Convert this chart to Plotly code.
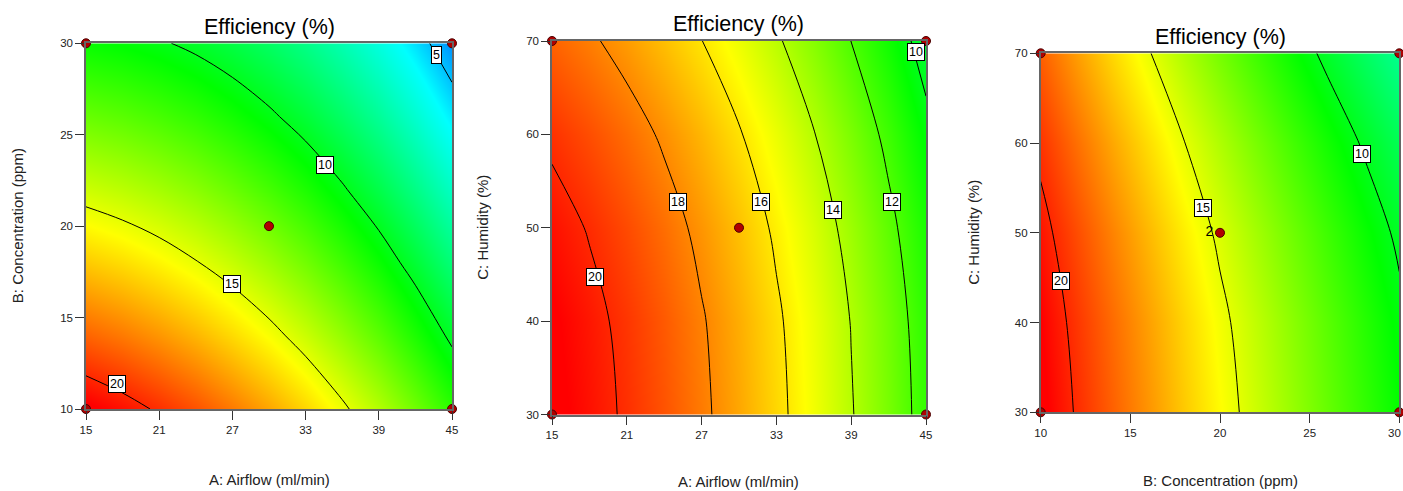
import plotly.graph_objects as go

# ---------------- data ----------------
# Panel 1: A (Airflow) vs B (Concentration)
p1_airflow = [15, 18, 21, 24, 27, 30, 33, 36, 39, 42, 45]
p1_conc = [10, 14, 18, 22, 26, 30]
p1_eff = [
    [21.03, 20.48, 19.84, 19.11, 18.28, 17.36, 16.34, 15.23, 14.03, 12.74, 11.35],
    [18.76, 18.28, 17.71, 17.04, 16.28, 15.43, 14.48, 13.44, 12.31, 11.08, 9.76],
    [16.59, 16.17, 15.67, 15.07, 14.38, 13.59, 12.71, 11.74, 10.68, 9.52, 8.26],
    [14.51, 14.16, 13.73, 13.20, 12.57, 11.85, 11.04, 10.14, 9.14, 8.05, 6.87],
    [12.53, 12.25, 11.88, 11.42, 10.86, 10.21, 9.47, 8.63, 7.70, 6.68, 5.56],
    [10.64, 10.43, 10.13, 9.74, 9.25, 8.67, 7.99, 7.22, 6.36, 5.41, 4.36],
]
p1_levels = [5, 20, 5]
p1_design_x = [15, 45, 15, 45, 30]
p1_design_y = [10, 10, 30, 30, 20]
p1_label_text = ["20", "15", "10", "5"]
p1_label_x = [17.57, 26.99, 34.62, 43.72]
p1_label_y = [11.35, 16.81, 23.37, 29.34]
p1_xticks = [15, 21, 27, 33, 39, 45]
p1_yticks = [10, 15, 20, 25, 30]

# Panel 2: A (Airflow) vs C (Humidity)
p2_airflow = [15, 18, 21, 24, 27, 30, 33, 36, 39, 42, 45]
p2_hum = [30, 40, 50, 60, 70]
p2_eff = [
    [21.07, 20.49, 19.83, 19.09, 18.25, 17.34, 16.34, 15.25, 14.09, 12.83, 11.49],
    [20.93, 20.35, 19.69, 18.95, 18.11, 17.20, 16.20, 15.12, 13.96, 12.70, 11.36],
    [20.49, 19.92, 19.26, 18.53, 17.69, 16.79, 15.80, 14.72, 13.57, 12.32, 10.99],
    [19.77, 19.20, 18.55, 17.82, 17.00, 16.10, 15.12, 14.05, 12.91, 11.68, 10.36],
    [18.75, 18.19, 17.55, 16.83, 16.02, 15.14, 14.17, 13.12, 11.99, 10.78, 9.48],
]
p2_levels = [10, 20, 2]
p2_design_x = [15, 45, 15, 45, 30]
p2_design_y = [30, 30, 70, 70, 50]
p2_label_text = ["20", "18", "16", "14", "12", "10"]
p2_label_x = [18.47, 25.13, 31.79, 37.53, 42.24, 44.22]
p2_label_y = [44.74, 52.71, 52.71, 51.92, 52.71, 68.79]
p2_xticks = [15, 21, 27, 33, 39, 45]
p2_yticks = [30, 40, 50, 60, 70]

# Panel 3: B (Concentration) vs C (Humidity)
p3_conc = [10, 12, 14, 16, 18, 20, 22, 24, 26, 28, 30]
p3_hum = [30, 40, 50, 60, 70]
p3_eff = [
    [21.03, 19.90, 18.79, 17.70, 16.62, 15.56, 14.52, 13.50, 12.50, 11.52, 10.55],
    [20.83, 19.68, 18.56, 17.46, 16.38, 15.31, 14.27, 13.25, 12.25, 11.27, 10.30],
    [20.39, 19.22, 18.07, 16.95, 15.85, 14.77, 13.72, 12.70, 11.70, 10.72, 9.77],
    [19.71, 18.49, 17.31, 16.16, 15.03, 13.94, 12.88, 11.85, 10.85, 9.88, 8.94],
    [18.80, 17.52, 16.29, 15.09, 13.93, 12.81, 11.74, 10.70, 9.70, 8.74, 7.83],
]
p3_levels = [10, 20, 5]
p3_design_x = [10, 30, 10, 30, 20]
p3_design_y = [30, 30, 70, 70, 50]
p3_design_text = ["", "", "", "", "2"]
p3_label_text = ["20", "15", "10"]
p3_label_x = [11.12, 19.07, 27.94]
p3_label_y = [44.66, 52.73, 58.75]
p3_xticks = [10, 15, 20, 25, 30]
p3_yticks = [30, 40, 50, 60, 70]

# colour scale (value -> colour)
color_min, color_max = 2.5, 20.8
color_stops = [2.5, 5.8, 10.5, 15.5, 20.8]
color_names = ["#0000FF", "#00FFFF", "#00FF00", "#FFFF00", "#FF0000"]

titles = ["Efficiency (%)", "Efficiency (%)", "Efficiency (%)"]
x_titles = ["A: Airflow (ml/min)", "A: Airflow (ml/min)", "B: Concentration (ppm)"]
y_titles = ["B: Concentration (ppm)", "C: Humidity (%)", "C: Humidity (%)"]

# ---------------- figure ----------------
W, H = 1403, 491
FONT = "Arial, 'Liberation Sans', sans-serif"
colorscale = [[(v - color_min) / (color_max - color_min), c] for v, c in zip(color_stops, color_names)]

panels = [
    dict(x=p1_airflow, y=p1_conc, z=p1_eff, lev=p1_levels, dx=p1_design_x, dy=p1_design_y,
         dt=None, lt=p1_label_text, lx=p1_label_x, ly=p1_label_y,
         xr=[15, 45], yr=[10, 30], xt=p1_xticks, yt=p1_yticks,
         px=(86, 452), py=(43.3, 409), title_y=27, xtitle_y=479, ytitle_x=17),
    dict(x=p2_airflow, y=p2_hum, z=p2_eff, lev=p2_levels, dx=p2_design_x, dy=p2_design_y,
         dt=None, lt=p2_label_text, lx=p2_label_x, ly=p2_label_y,
         xr=[15, 45], yr=[30, 70], xt=p2_xticks, yt=p2_yticks,
         px=(552, 926), py=(41, 414.5), title_y=24, xtitle_y=481.5, ytitle_x=483),
    dict(x=p3_conc, y=p3_hum, z=p3_eff, lev=p3_levels, dx=p3_design_x, dy=p3_design_y,
         dt=p3_design_text, lt=p3_label_text, lx=p3_label_x, ly=p3_label_y,
         xr=[10, 30], yr=[30, 70], xt=p3_xticks, yt=p3_yticks,
         px=(1040.7, 1399.3), py=(53.3, 412.3), title_y=37, xtitle_y=480, ytitle_x=974),
]

fig = go.Figure()
annotations = []
layout_axes = {}
TICKFONT = dict(family=FONT, size=11.5, color="#222")

for i, p in enumerate(panels):
    n = "" if i == 0 else str(i + 1)
    xa, ya = "x" + n, "y" + n
    fig.add_trace(go.Heatmap(
        x=p["x"], y=p["y"], z=p["z"], zsmooth="best", colorscale=colorscale,
        zmin=color_min, zmax=color_max, showscale=False, hoverinfo="skip",
        xaxis=xa, yaxis=ya))
    fig.add_trace(go.Contour(
        x=p["x"], y=p["y"], z=p["z"],
        contours=dict(coloring="none", start=p["lev"][0], end=p["lev"][1], size=p["lev"][2]),
        line=dict(color="black", width=1, smoothing=1.0),
        showscale=False, hoverinfo="skip", xaxis=xa, yaxis=ya))
    fig.add_trace(go.Scatter(
        x=p["dx"], y=p["dy"], mode="markers+text" if p["dt"] else "markers",
        text=p["dt"], textposition="middle left",
        textfont=dict(family=FONT, size=14, color="black"),
        marker=dict(size=9, color="#B00000", line=dict(color="#4A0000", width=1)),
        cliponaxis=False, showlegend=False, hoverinfo="skip", xaxis=xa, yaxis=ya))

    for t, lx, ly in zip(p["lt"], p["lx"], p["ly"]):
        annotations.append(dict(
            x=lx, y=ly, xref=xa, yref=ya, text=t, showarrow=False,
            bgcolor="white", bordercolor="black", borderwidth=1, borderpad=1,
            font=dict(family=FONT, size=12.5, color="black")))

    x0, x1 = p["px"]
    y0, y1 = p["py"]
    axis_common = dict(
        ticks="outside", ticklen=9, tickwidth=1, tickcolor="#333",
        showline=True, linecolor="#666", linewidth=1.5, mirror=True,
        showgrid=False, zeroline=False, fixedrange=True, automargin=False,
        tickfont=TICKFONT)
    xticktext = [str(v) for v in p["xt"]]
    if x1 > W - 10:
        # last label would run past the page edge: drawn separately, right-aligned
        last = xticktext[-1]
        xticktext[-1] = ""
        annotations.append(dict(x=1, y=1 - (y1 + 20.5) / H, xref="paper", yref="paper",
                                text=last, showarrow=False, xanchor="right", yanchor="middle",
                                font=TICKFONT))
    layout_axes["xaxis" + n] = dict(axis_common, domain=[x0 / W, x1 / W], range=p["xr"],
                                    tickvals=p["xt"], ticktext=xticktext, anchor=ya)
    layout_axes["yaxis" + n] = dict(axis_common, domain=[1 - y1 / H, 1 - y0 / H], range=p["yr"],
                                    tickvals=p["yt"], anchor=xa)

    cx = (x0 + x1) / 2
    annotations.append(dict(x=cx / W, y=1 - p["title_y"] / H, xref="paper", yref="paper",
                            text=titles[i], showarrow=False, xanchor="center", yanchor="middle",
                            font=dict(family=FONT, size=21.5, color="black")))
    annotations.append(dict(x=cx / W, y=1 - p["xtitle_y"] / H, xref="paper", yref="paper",
                            text=x_titles[i], showarrow=False, xanchor="center", yanchor="middle",
                            font=dict(family=FONT, size=15, color="#222")))
    annotations.append(dict(x=p["ytitle_x"] / W, y=1 - ((y0 + y1) / 2) / H, xref="paper", yref="paper",
                            text=y_titles[i], showarrow=False, textangle=-90,
                            xanchor="center", yanchor="middle",
                            font=dict(family=FONT, size=15, color="#222")))

fig.update_layout(
    width=W, height=H, margin=dict(l=0, r=0, t=0, b=0, pad=0, autoexpand=False),
    paper_bgcolor="white", plot_bgcolor="white", showlegend=False,
    annotations=annotations, **layout_axes)

fig.write_html("out.html")
